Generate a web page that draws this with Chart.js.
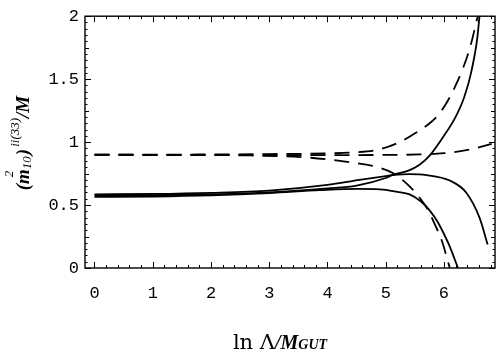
<!DOCTYPE html>
<html>
<head>
<meta charset="utf-8">
<script src="https://cdn.jsdelivr.net/npm/chart.js@4"></script>
<style>
  html, body { margin: 0; padding: 0; background: #fff; }
</style>
</head>
<body>
<canvas id="graf" width="499" height="356"></canvas>
<script>
"use strict"

// courbes pleines
let pleineAx = [0, 1, 2, 3, 4, 4.5, 5, 5.12, 5.4, 5.58, 5.75, 6.0, 6.2, 6.35, 6.47, 6.57, 6.61]
let pleineAy = [0.575, 0.578, 0.585, 0.6, 0.632, 0.655, 0.715, 0.74, 0.775, 0.82, 0.89, 1.05, 1.2, 1.36, 1.56, 1.82, 2.0]

let pleineBx = [0, 1, 2, 3, 4, 4.55, 5, 5.12, 5.4, 5.7, 6.1, 6.38, 6.61, 6.75]
let pleineBy = [0.585, 0.588, 0.597, 0.615, 0.66, 0.70, 0.73, 0.737, 0.745, 0.738, 0.695, 0.60, 0.40, 0.186]

let pleineCx = [0, 1, 2, 3, 3.87, 4.5, 4.9, 5.2, 5.41, 5.6, 5.75, 5.9, 6.0, 6.1, 6.24]
let pleineCy = [0.565, 0.568, 0.577, 0.595, 0.618, 0.628, 0.625, 0.605, 0.585, 0.53, 0.46, 0.36, 0.27, 0.17, 0.0]

// courbes en tirets
let tiretAx = [0, 1, 2, 3, 4, 4.43, 4.87, 5.24, 5.47, 5.78, 5.96, 6.21, 6.44, 6.58]
let tiretAy = [0.9, 0.9, 0.902, 0.905, 0.91, 0.918, 0.94, 1.0, 1.06, 1.16, 1.25, 1.46, 1.74, 2.0]

let tiretBx = [0, 2, 3, 4, 5, 5.58, 6, 6.44, 6.82]
let tiretBy = [0.898, 0.897, 0.897, 0.897, 0.898, 0.902, 0.912, 0.94, 0.985]

let tiretCx = [0, 1, 2, 2.67, 3.7, 4.43, 4.87, 5.12, 5.36, 5.57, 5.72, 5.84, 5.96, 6.1]
let tiretCy = [0.9, 0.899, 0.897, 0.894, 0.876, 0.837, 0.80, 0.755, 0.67, 0.566, 0.465, 0.35, 0.22, 0.0]

let xTicks = [0, 1, 2, 3, 4, 5, 6]
let yTicks = [0, 0.5, 1, 1.5, 2]

function points(xs, ys) {
    return xs.map((v, i) => ({ x: v, y: ys[i] }))
}

function courbe(xs, ys, dash) {
    return {
        data: points(xs, ys),
        borderColor: "#000",
        borderWidth: 1.8,
        borderDash: dash,
        pointRadius: 0,
        fill: false,
        cubicInterpolationMode: "monotone"
    }
}

// cadre + graduations vers l'interieur, titres des axes
let cadre = {
    id: "cadre",
    afterDraw(chart) {
        let ctx = chart.ctx
        let a = chart.chartArea
        let x = chart.scales.x
        let y = chart.scales.y
        ctx.save()
        ctx.strokeStyle = "#000"
        ctx.lineWidth = 1.4
        ctx.strokeRect(a.left, a.top, a.right - a.left, a.bottom - a.top)
        ctx.lineWidth = 1
        ctx.beginPath()
        for (let i = -1; i <= 35; i++) {
            let v = i / 5
            if (v < x.min || v > x.max) continue
            let px = Math.round(x.getPixelForValue(v)) + 0.5
            let len = i % 5 === 0 ? 6 : 3
            ctx.moveTo(px, a.bottom); ctx.lineTo(px, a.bottom - len)
            ctx.moveTo(px, a.top); ctx.lineTo(px, a.top + len)
        }
        for (let i = 0; i <= 40; i++) {
            let v = i / 20
            let py = Math.round(y.getPixelForValue(v)) + 0.5
            let len = i % 10 === 0 ? 6 : (i % 5 === 0 ? 4 : 2.5)
            ctx.moveTo(a.left, py); ctx.lineTo(a.left + len, py)
            ctx.moveTo(a.right, py); ctx.lineTo(a.right - len, py)
        }
        ctx.stroke()

        // titre axe x : ln Λ/M_GUT
        ctx.fillStyle = "#000"
        ctx.textBaseline = "alphabetic"
        let morceaux = [
            ["ln Λ", "21px 'DejaVu Serif'"],
            ["/M", "italic bold 20px 'Liberation Serif'"],
            ["GUT", "italic bold 14px 'Liberation Serif'"]
        ]
        let total = 0
        morceaux.forEach(m => { ctx.font = m[1]; total += ctx.measureText(m[0]).width })
        let cx = 280 - total / 2
        morceaux.forEach(m => {
            ctx.font = m[1]
            ctx.fillText(m[0], cx, 349)
            cx += ctx.measureText(m[0]).width
        })

        // titre axe y : (m^2_10)^{ii(33)}/M
        ctx.translate(29, 143)
        ctx.rotate(-Math.PI / 2)
        let grand = "italic bold 19px 'Liberation Serif'"
        let petit = "italic 13px 'Liberation Serif'"
        ctx.font = grand
        let wPar = ctx.measureText("(").width
        let wm = ctx.measureText("m").width
        let wFer = ctx.measureText(")").width
        let wM = ctx.measureText("/M").width
        ctx.font = petit
        let w10 = ctx.measureText("10").width
        let wii = ctx.measureText("ii(33)").width
        let w = wPar + wm + w10 + wFer + wii + wM + 3
        let px = -w / 2
        ctx.font = grand
        ctx.fillText("(", px, 0); px += wPar
        ctx.fillText("m", px, 0); px += wm
        ctx.font = petit
        ctx.fillText("2", px - 8, -16)
        ctx.fillText("10", px, 2); px += w10 + 1
        ctx.font = grand
        ctx.fillText(")", px, 0); px += wFer + 2
        ctx.font = petit
        ctx.fillText("ii(33)", px, -10); px += wii
        ctx.font = grand
        ctx.fillText("/M", px, 0)
        ctx.restore()
    }
}

let graf = new Chart(document.querySelector("#graf"), {
    type: "line",
    data: {
        datasets: [
            courbe(pleineAx, pleineAy, []),
            courbe(pleineBx, pleineBy, []),
            courbe(pleineCx, pleineCy, []),
            courbe(tiretAx, tiretAy, [15, 9]),
            courbe(tiretBx, tiretBy, [15, 9]),
            courbe(tiretCx, tiretCy, [15, 9])
        ]
    },
    options: {
        responsive: false,
        animation: false,
        layout: { padding: { top: 9, right: 4, left: 0, bottom: 0 } },
        plugins: { legend: { display: false }, tooltip: { enabled: false } },
        scales: {
            x: {
                type: "linear",
                min: -0.163,
                max: 6.876,
                grid: { display: false, drawTicks: false },
                border: { display: false },
                afterBuildTicks: s => { s.ticks = xTicks.map(v => ({ value: v })) },
                afterFit: s => { s.height = 88 },
                ticks: {
                    color: "#000",
                    padding: 15,
                    font: { family: "'Liberation Mono'", size: 17 },
                    callback: v => String(v)
                }
            },
            y: {
                min: 0,
                max: 2,
                grid: { display: false, drawTicks: false },
                border: { display: false },
                afterBuildTicks: s => { s.ticks = yTicks.map(v => ({ value: v })) },
                afterFit: s => { s.width = 85 },
                ticks: {
                    color: "#000",
                    padding: 6,
                    font: { family: "'Liberation Mono'", size: 17 },
                    callback: v => String(v)
                }
            }
        }
    },
    plugins: [cadre]
})
</script>
</body>
</html>
